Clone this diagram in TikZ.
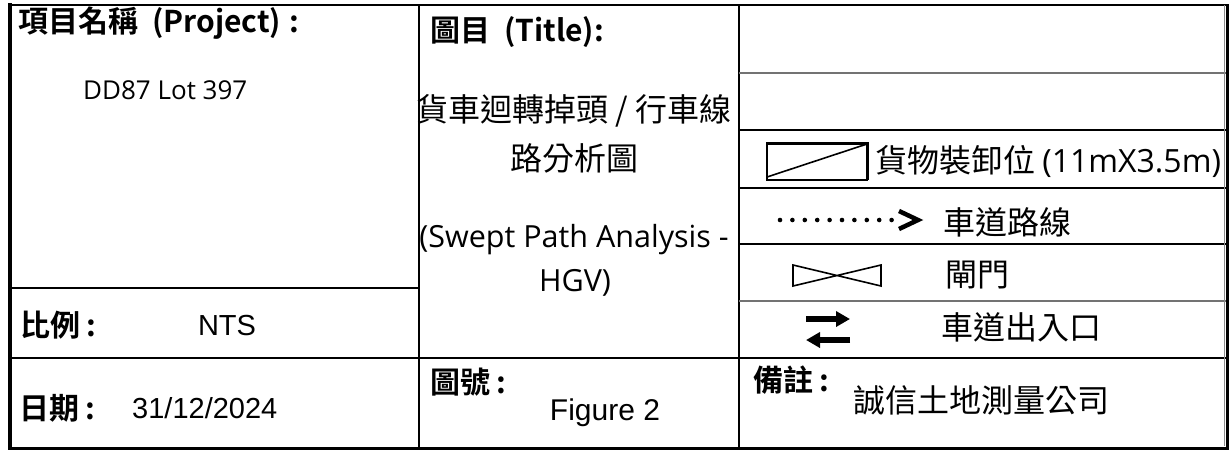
\documentclass[tikz,border=0pt]{standalone}
\usepackage{fontspec}
\setmainfont{Noto Sans CJK TC}[BoldFont={Noto Sans CJK TC Bold}]
\newfontfamily\segoefont{Open Sans}
\newfontfamily\arialfont{Liberation Sans}
\usetikzlibrary{arrows.meta}

\begin{document}
\begin{tikzpicture}[x=1pt,y=-1pt,
        head/.style={inner sep=0pt,anchor=west,font=\fontsize{30}{32}\selectfont\bfseries},
        cjk/.style={inner sep=0pt,font=\fontsize{32}{34}\selectfont},
        latin/.style={inner sep=0pt,font=\fontsize{26}{30}\selectfont\segoefont},
        arial/.style={inner sep=0pt,font=\fontsize{29}{32}\selectfont\arialfont},
        rule/.style={line width=2pt},
        greyrule/.style={line width=2pt,black!55},
        symbol/.style={line width=1.6pt},
        twoway/.style={line width=5.5pt,-{Triangle[length=14pt,width=15pt]}}]
    \useasboundingbox (0,0) rectangle (1229,451);
    \fill[white] (0,0) rectangle (1229,451);

    % frame and columns
    \draw[rule]
        (10,5) -- (1227,5)
        (419,5) -- (419,448)
        (739,5) -- (739,448)
        (10,288) -- (419,288)
        (10,358) -- (1227,358)
        (739,130) -- (1227,130)
        (739,188) -- (1227,188)
        (739,244) -- (1227,244)
        ;
    \draw[greyrule]
        (739,73) -- (1227,73)
        (739,301) -- (1227,301)
        ;
    \draw[line width=4.5pt] (10,3) -- (10,450);
    \draw[line width=3pt] (8,448) -- (1229,448);
    \draw[line width=3pt] (1227,4) -- (1227,450);
    \draw[line width=1pt,black!45] (1224,5) -- (1224,446);

    % left column
    \node[head] (projhead) at (18,23) {項目名稱\hspace{14pt}(Project)\hspace{8pt}:};
    \node[latin,anchor=west] (projname) at (83,90) {DD87 Lot 397};
    \node[head] (scalehead) at (20,325) {比例 :};
    \node[arial] (scale) at (227,326) {NTS};
    \node[head] (datehead) at (19,408) {日期 :};
    \node[arial,anchor=west] (date) at (132,408) {31/12/2024};

    % middle column
    \node[head] (titlehead) at (430,32) {圖目\hspace{14pt}(Title):};
    \node[cjk] (titlezh) at (574,111) {貨車迴轉掉頭 / 行車線};
    \node[cjk] (titlezhb) at (574,158) {路分析圖};
    \node[latin,font=\fontsize{30.5}{32}\selectfont\segoefont] (titleen) at (574,240) {(Swept Path Analysis -};
    \node[latin,font=\fontsize{30.5}{32}\selectfont\segoefont] (titleenb) at (575,283) {HGV)};
    \node[head] (fighead) at (430,382) {圖號 :};
    \node[arial,font=\fontsize{30}{32}\selectfont\arialfont] (fig) at (605,413) {Figure 2};

    % legend
    \draw[symbol] (767,143) rectangle (867,180);
    \draw[symbol] (767,177) -- (867,144);
    \draw[line width=3pt] (767,143) -- (867,143) -- (867,180);
    \node[cjk,anchor=west] (bay) at (875,161) {貨物裝卸位 {\segoefont (11mX3.5m)}};

    \foreach \i in {0,...,9}
        \fill (780+\i*12.4,220) circle (2.3pt);
    \draw[line width=4.5pt] (899,211) -- (918,220) -- (899,229);
    \node[cjk,anchor=west] (route) at (943,222) {車道路線};

    \draw[symbol] (793,265) -- (793,286) -- (881,265) -- (881,286) -- cycle;
    \node[cjk,anchor=west] (gate) at (945,275) {閘門};

    \draw[twoway] (806,319) -- (850,319);
    \draw[twoway] (850,340) -- (806,340);
    \node[cjk,anchor=west] (access) at (941,327) {車道出入口};

    \node[head] (notehead) at (753,380) {備註 :};
    \node[cjk,anchor=west] (note) at (853,400) {誠信土地測量公司};
\end{tikzpicture}
\end{document}
